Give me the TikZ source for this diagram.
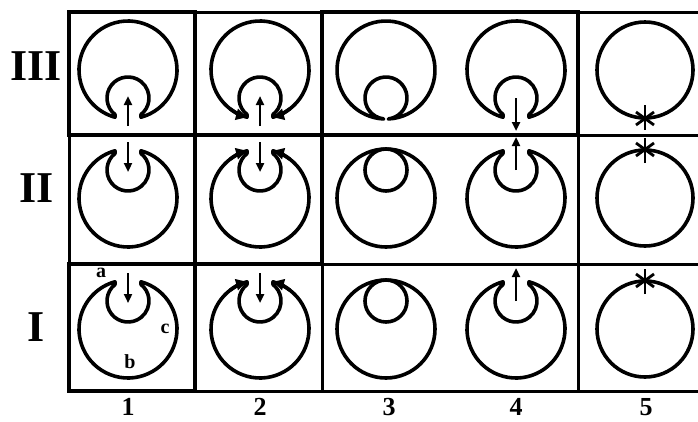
\documentclass[tikz,border=0pt]{standalone}
\usepackage{fontspec}
\setmainfont{Liberation Serif}
\usetikzlibrary{arrows.meta}
\tikzset{
  fig/.style={line width=3.6pt, line join=round},
  starline/.style={line width=2.8pt},
  gridline/.style={line width=3pt},
  thickbox/.style={line width=4.5pt},
  flowarrow/.style={line width=2.8pt, -{Triangle[length=9pt,width=8pt]}},
  rimarrow/.style={line width=3.6pt, -{Triangle[length=11pt,width=11pt]}},
  rowlab/.style={font=\fontsize{44}{44}\selectfont\bfseries, inner sep=0pt},
  collab/.style={font=\fontsize{26}{26}\selectfont\bfseries, inner sep=0pt},
  partlab/.style={font=\fontsize{20}{20}\selectfont\bfseries, inner sep=0pt},
}
% cup-shaped figure, gap at local top; #1 = half width of the gap
\newcommand\CupShape[1]{%
  \pgfmathsetmacro\cupAo{acos(#1/49)}%
  \pgfmathsetmacro\cupAi{acos(#1/21)}%
  \pgfmathsetmacro\cupYi{28+sqrt(441-(#1)*(#1))}%
  \draw[fig] (\cupAo:49) arc[start angle=\cupAo, end angle=-180-\cupAo, radius=49]
    -- (-#1,\cupYi) arc[start angle=180-\cupAi, end angle=360+\cupAi, radius=21] -- cycle;}
\newcommand\RimArrows[1]{%
  \pgfmathsetmacro\cupAo{acos(#1/49)}%
  \draw[rimarrow] (\cupAo-22:49) arc[start angle=\cupAo-22, end angle=\cupAo, radius=49];
  \draw[rimarrow] (202-\cupAo:49) arc[start angle=202-\cupAo, end angle=180-\cupAo, radius=49];}
\newcommand\InArrow{\draw[flowarrow] (0,56) -- (0,26);}
\newcommand\OutArrow{\draw[flowarrow] (0,28) -- (0,61);}
\newcommand\StarMark{%
  \draw[starline] (0,35) -- (0,60);
  \draw[starline] (-9,42) -- (9,55);
  \draw[starline] (-9,55) -- (9,42);}
\begin{document}
\begin{tikzpicture}[x=1pt,y=1pt]
\useasboundingbox (0,0) rectangle (698,-421);
% grid
\draw[gridline] (68,-12) -- (698,-12);
\draw[gridline] (68,-135) -- (698,-135);
\draw[gridline] (68,-264) -- (698,-264);
\draw[gridline] (68,-391) -- (698,-391);
\draw[gridline] (69,-12) -- (69,-391);
\draw[gridline] (195,-12) -- (195,-391);
\draw[gridline] (322,-12) -- (322,-391);
\draw[gridline] (578,-12) -- (578,-391);
\draw[thickbox] (69,-12) rectangle (195,-135);
\draw[thickbox] (322,-12) rectangle (578,-135);
\draw[thickbox] (195,-135) rectangle (322,-264);
\draw[thickbox] (69,-264) rectangle (195,-391);
% row III (gap at bottom)
\begin{scope}[shift={(128,-70)},yscale=-1] \CupShape{13} \InArrow \end{scope}
\begin{scope}[shift={(260,-70)},yscale=-1] \CupShape{13} \RimArrows{13} \InArrow \end{scope}
\begin{scope}[shift={(386,-70)},yscale=-1] \CupShape{2.5} \end{scope}
\begin{scope}[shift={(516,-70)},yscale=-1] \CupShape{13} \OutArrow \end{scope}
\begin{scope}[shift={(645,-70)},yscale=-1] \draw[fig] (0,0) circle[radius=48]; \StarMark \end{scope}
% row II (gap at top)
\begin{scope}[shift={(128,-198)}] \CupShape{13} \InArrow \end{scope}
\begin{scope}[shift={(260,-198)}] \CupShape{13} \RimArrows{13} \InArrow \end{scope}
\begin{scope}[shift={(386,-198)}] \draw[fig] (0,0) circle[radius=49]; \draw[fig] (0,28) circle[radius=21]; \end{scope}
\begin{scope}[shift={(516,-198)}] \CupShape{13} \OutArrow \end{scope}
\begin{scope}[shift={(645,-198)}] \draw[fig] (0,0) circle[radius=48]; \StarMark \end{scope}
% row I (gap at top)
\begin{scope}[shift={(128,-329)}] \CupShape{13} \InArrow \end{scope}
\begin{scope}[shift={(260,-329)}] \CupShape{13} \RimArrows{13} \InArrow \end{scope}
\begin{scope}[shift={(386,-329)}] \draw[fig] (0,0) circle[radius=49]; \draw[fig] (0,28) circle[radius=21]; \end{scope}
\begin{scope}[shift={(516,-329)}] \CupShape{13} \OutArrow \end{scope}
\begin{scope}[shift={(645,-329)}] \draw[fig] (0,0) circle[radius=48]; \StarMark \end{scope}
% part labels
\node[partlab] (la) at (101,-273) {a};
\node[partlab] (lc) at (165,-329) {c};
\node[partlab] (lb) at (130,-362) {b};
% row labels
\node[rowlab] (r3) at (36,-66) {III};
\node[rowlab] (r2) at (37,-188) {II};
\node[rowlab] (r1) at (36.5,-327) {I};
% column labels
\node[collab] (c1) at (128,-407) {1};
\node[collab] (c2) at (260,-407) {2};
\node[collab] (c3) at (389,-407) {3};
\node[collab] (c4) at (516,-407) {4};
\node[collab] (c5) at (646,-407) {5};
\end{tikzpicture}
\end{document}
